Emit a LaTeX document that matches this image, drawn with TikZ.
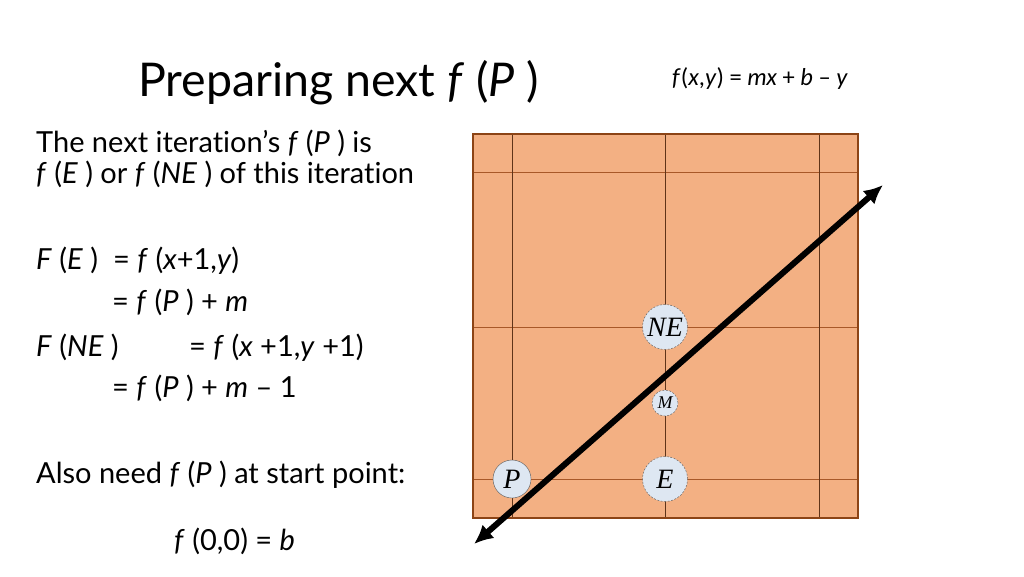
\documentclass[tikz,border=0pt]{standalone}
\usepackage{fontspec}
\setmainfont{Lato}[Ligatures=NoCommon]
\newfontfamily\calfont{Carlito}
\newfontfamily\serfont{Liberation Serif}
\usetikzlibrary{arrows.meta}

\definecolor{cellfill}{RGB}{243,176,131}
\definecolor{celledge}{RGB}{140,68,22}
\definecolor{gridv}{RGB}{95,52,25}
\definecolor{gridh}{RGB}{168,88,40}
\definecolor{pixfill}{RGB}{222,231,242}

\newcommand{\fP}{\textit{f} (\textit{P} )}

\begin{document}
\begin{tikzpicture}[x=1pt,y=-1pt,
        txt/.style={anchor=base west,inner sep=0pt,
            font=\fontsize{29}{32}\selectfont},
        pix/.style={circle,draw=black!65,fill=pixfill,inner sep=0pt,
            font=\serfont\itshape\fontsize{28}{28}\selectfont},
        cand/.style={pix,dashed,dash pattern=on 2pt off 1.5pt,minimum size=45pt},
        mid/.style={pix,dashed,dash pattern=on 2pt off 1.5pt,minimum size=26pt,
            font=\serfont\itshape\fontsize{18}{18}\selectfont}]
\useasboundingbox (0,0) rectangle (1024,576);

% title and formula
\node[anchor=base west,inner sep=0pt,font=\fontsize{46.5}{50}\selectfont]
    (title) at (138,96) {Preparing next \fP};
\node[anchor=base west,inner sep=0pt,font=\calfont\fontsize{24.5}{26}\selectfont]
    (fxy) at (672,85) {\textit{f}(\textit{x},\textit{y}) = \textit{mx} + \textit{b} – \textit{y}};

% left column
\node[txt] (note1) at (36,152) {The next iteration’s \fP\ is};
\node[txt] (note2) at (36,183) {\textit{f} (\textit{E} ) or \textit{f} (\textit{NE} ) of this iteration};
\node[txt] (fe) at (36,269) {\textit{F} (\textit{E} )};
\node[txt] (fe1) at (113,269) {= \textit{f} (\textit{x}+1,\textit{y})};
\node[txt] (fe2) at (112,311) {= \fP\ + \textit{m}};
\node[txt] (fne) at (36,356) {\textit{F} (\textit{NE} )};
\node[txt] (fne1) at (189,356) {= \textit{f} (\textit{x} +1,\textit{y} +1)};
\node[txt] (fne2) at (112,397) {= \fP\ + \textit{m} – 1};
\node[txt] (start) at (36,483) {Also need \fP\ at start point:};
\node[txt] (origin) at (174,550) {\textit{f} (0,0) = \textit{b}};

% pixel grid
\fill[cellfill] (473,134) rectangle (858,518);
\foreach \y in {172,327,479}
    \draw[gridh] (473,\y) -- (858,\y);
\foreach \x in {512,665,819}
    \draw[gridv] (\x,134) -- (\x,518);
\draw[celledge,line width=2.5pt] (473,134) rectangle (858,518);

\node[pix,minimum size=38pt] (P) at (512,479) {P};
\node[cand] (E) at (665,479) {E};
\node[cand] (NE) at (665,327) {NE};
\node[mid] (M) at (665,403) {M};

\coordinate (lo) at (474,544);
\coordinate (hi) at (883,185);
\draw[line width=6pt,{Latex[length=19pt,width=18pt]}-{Latex[length=19pt,width=18pt]}] (lo) -- (hi);
\end{tikzpicture}
\end{document}
